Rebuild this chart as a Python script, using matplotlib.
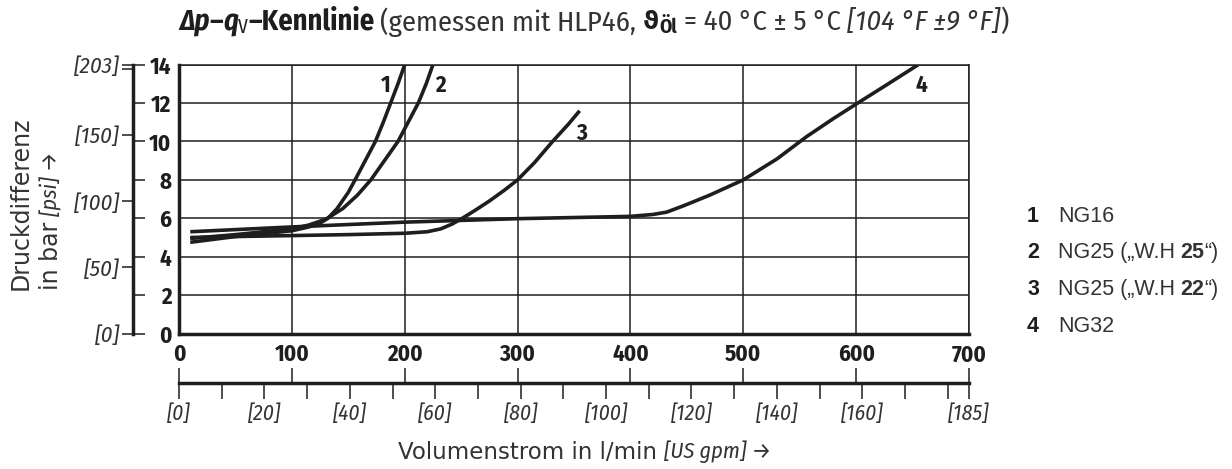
import numpy as np
import matplotlib
matplotlib.use("Agg")
import matplotlib.pyplot as plt

# ------------------- characteristic curves (q in l/min, dp in bar) -------------------
q_ng16 = [10, 30, 50, 75, 100, 115, 125, 132, 140, 150, 156, 165, 174, 181, 187.5, 194, 200]
p_ng16 = [4.75, 4.9, 5.05, 5.2, 5.35, 5.55, 5.75, 6.0, 6.5, 7.35, 8.0, 9.0, 10.0, 11.0, 12.0, 13.0, 14.0]

q_ng25_25 = [10, 30, 50, 75, 100, 115, 130, 145, 158, 170, 182, 194, 203, 212, 219, 225]
p_ng25_25 = [4.95, 5.05, 5.15, 5.3, 5.45, 5.65, 5.95, 6.5, 7.2, 8.0, 9.0, 10.0, 11.0, 12.0, 13.0, 14.0]

q_ng25_22 = [10, 50, 100, 150, 200, 220, 232, 242, 251, 262, 275, 288, 300, 315, 331, 345, 355]
p_ng25_22 = [5.0, 5.05, 5.1, 5.15, 5.22, 5.3, 5.45, 5.7, 6.0, 6.4, 6.9, 7.45, 8.0, 8.9, 10.0, 10.9, 11.6]

q_ng32 = [10, 100, 200, 300, 400, 420, 432, 447, 470, 500, 530, 556, 580, 600, 627, 655]
p_ng32 = [5.3, 5.55, 5.8, 5.98, 6.1, 6.2, 6.32, 6.65, 7.2, 8.0, 9.1, 10.25, 11.2, 11.95, 12.95, 14.0]

curve_ids = ["1", "2", "3", "4"]
curve_label_pos = [(183, 12.9), (232, 12.9), (357, 10.4), (658, 12.9)]
legend_names = ["NG16", "NG25 (\u201eW.H", "NG25 (\u201eW.H", "NG32"]
legend_bold = ["", "25", "22", ""]
legend_tail = ["", "\u201c)", "\u201c)", ""]

# axis scales
bar_ticks = [0, 2, 4, 6, 8, 10, 12, 14]
psi_ticks = [0, 50, 100, 150, 200, 203]
psi_labels = ["[0]", "[50]", "[100]", "[150]", "", "[203]"]
lmin_ticks = [0, 100, 200, 300, 400, 500, 600, 700]
gpm_ticks = list(range(0, 190, 10)) + [185]
gpm_labels = [f"[{g}]" if (g % 20 == 0 and g <= 160) or g == 185 else "" for g in gpm_ticks]
BAR_TO_PSI = 14.5038

W, H = 1232, 469
INK = "#1e1e1e"
GREY = "#333333"
NARROW = ["Fira Sans Condensed", "Barlow Semi Condensed", "Liberation Sans", "DejaVu Sans"]
SANS = ["DejaVu Sans"]
LEG = ["Liberation Sans", "DejaVu Sans"]


def fx(px):
    return px / W


def fy(py):
    return 1 - py / H


fig = plt.figure(figsize=(W / 100, H / 100), dpi=100)
renderer = fig.canvas.get_renderer()

x0, x1 = 179, 969
y_top, y_bot = 64.7, 333.5

# ---- main diagram ----
ax = fig.add_axes([fx(x0), fy(y_bot), (x1 - x0) / W, (y_bot - y_top) / H])
ax.set_xlim(0, 700)
ax.set_ylim(0, 14)
ax.set_xticks(lmin_ticks)
ax.set_yticks(bar_ticks)
ax.grid(True, color=INK, lw=1.1)
ax.tick_params(axis="both", length=0)
ax.tick_params(axis="x", pad=7)
ax.set_yticklabels([])
ax.set_xticklabels([str(t) for t in lmin_ticks], fontfamily=NARROW,
                   fontweight="bold", fontsize=16.5, color=INK)
for s in ["left", "bottom"]:
    ax.spines[s].set_linewidth(2.5)
for s in ["top", "right"]:
    ax.spines[s].set_linewidth(1.1)
for s in ax.spines.values():
    s.set_color(INK)
    s.set_zorder(3)

for q, p in [(q_ng16, p_ng16), (q_ng25_25, p_ng25_25),
             (q_ng25_22, p_ng25_22), (q_ng32, p_ng32)]:
    ax.plot(q, p, color=INK, lw=2.6, solid_capstyle="butt", zorder=4)

for cid, (qx, py) in zip(curve_ids, curve_label_pos):
    ax.text(qx, py, cid, ha="center", va="center", fontfamily=NARROW,
            fontweight="bold", fontsize=16.5, color=INK)

# ---- bar / psi scale on the left ----
ay = fig.add_axes([fx(133), fy(y_bot), 1e-6, (y_bot - y_top) / H])
ay.set_ylim(0, 14)
ay.set_xticks([])
for s in ["left", "top", "bottom"]:
    ay.spines[s].set_visible(False)
ay.spines["right"].set_linewidth(2.5)
ay.spines["right"].set_color(INK)
ay.yaxis.set_ticks_position("right")
ay.set_yticks(bar_ticks)
ay.set_yticklabels([str(t) for t in bar_ticks], fontfamily=NARROW,
                   fontweight="bold", fontsize=16.5, color=INK)
ay.tick_params(axis="y", direction="out", length=8.5, width=1.1, color=INK, pad=19)
for lab in ay.get_yticklabels():
    lab.set_horizontalalignment("right")

ap = fig.add_axes([fx(133), fy(y_bot), 1e-6, (y_bot - y_top) / H])
ap.patch.set_visible(False)
ap.set_ylim(0, 14 * BAR_TO_PSI)
ap.set_xticks([])
for s in ap.spines.values():
    s.set_visible(False)
ap.set_yticks(psi_ticks)
ap.set_yticklabels(psi_labels, fontfamily=NARROW, fontstyle="italic",
                   fontsize=16.5, color=GREY)
ap.tick_params(axis="y", direction="out", length=8, width=1.1, color=INK, pad=1.5)

# ---- l/min / US gpm scale below ----
y_sec = 383
axx = fig.add_axes([fx(x0), fy(y_sec), (x1 - x0) / W, 1e-6])
axx.set_xlim(0, 700)
axx.set_yticks([])
for s in ["left", "right", "top"]:
    axx.spines[s].set_visible(False)
axx.spines["bottom"].set_linewidth(2.5)
axx.spines["bottom"].set_color(INK)
axx.xaxis.set_ticks_position("top")
axx.set_xticks(lmin_ticks)
axx.set_xticklabels([])
axx.tick_params(axis="x", direction="out", length=11, width=1.1, color=INK)

axg = fig.add_axes([fx(x0), fy(y_sec), (x1 - x0) / W, 1e-6])
axg.patch.set_visible(False)
axg.set_xlim(0, 700 / 3.7838)
axg.set_yticks([])
for s in axg.spines.values():
    s.set_visible(False)
axg.set_xticks(gpm_ticks)
axg.set_xticklabels(gpm_labels, fontfamily=NARROW, fontstyle="italic",
                    fontsize=15.5, color=GREY)
axg.tick_params(axis="x", direction="out", length=11.5, width=1.1, color=INK, pad=3)


def chain(x, y, parts, rotation=0):
    """Draw text pieces one after another, starting at (x, y) in pixels.
    Each part is (text, style[, y offset px[, gap after px]])."""
    for txt, kw, *extra in parts:
        off = extra[0] if len(extra) > 0 else 0
        gap = extra[1] if len(extra) > 1 else 0
        opts = dict(color=GREY, va="center" if rotation == 0 else "bottom",
                    ha="left" if rotation == 0 else "center", rotation=rotation)
        opts.update(kw)
        t = fig.text(fx(x), fy(y + off), txt, **opts)
        bb = t.get_window_extent(renderer)
        if rotation == 0:
            x += bb.width + gap
        else:
            y -= bb.height + gap
    return x


# ---- axis titles ----
chain(398, 452, [("Volumenstrom in l/min", dict(fontfamily=SANS, fontsize=16.5), 0, 7),
                 ("[US gpm] \u2192", dict(fontfamily=NARROW, fontstyle="italic", fontsize=16))])
chain(21, 290, [("Druckdifferenz", dict(fontfamily=SANS, fontsize=17))], rotation=90)
chain(51, 290, [("in bar", dict(fontfamily=SANS, fontsize=17), 0, 6),
                ("[psi] \u2192", dict(fontfamily=NARROW, fontstyle="italic", fontsize=16))],
      rotation=90)

# ---- legend ----
for i, cid in enumerate(curve_ids):
    yy = 216 + i * 36.7
    fig.text(fx(1033), fy(yy), cid, ha="center", va="center", fontfamily=LEG,
             fontweight="bold", fontsize=15.5, color=INK)
    chain(1058, yy, [(legend_names[i], dict(fontfamily=LEG, fontsize=15.5), 0, 5),
                     (legend_bold[i], dict(fontfamily=LEG, fontsize=15.5, fontweight="bold")),
                     (legend_tail[i], dict(fontfamily=LEG, fontsize=15.5))])

# ---- title built from styled pieces ----
tsz = 20.5
sub = 14
tb = dict(fontfamily=NARROW, fontsize=tsz, fontweight="bold", color=INK)
tbi = dict(tb, fontstyle="italic")
tn = dict(fontfamily=NARROW, fontsize=tsz, color=GREY)
chain(179, 22, [
    ("\u0394p", tbi),
    ("\u2013", tb),
    ("q", tbi),
    ("V", dict(tb, fontweight="normal", fontsize=sub), 5),
    ("\u2013Kennlinie", tb, 0, 6),
    ("(gemessen mit HLP46,", tn, 0, 7),
    ("\u03d1", dict(tb, fontfamily=["DejaVu Sans"], fontsize=tsz - 3)),
    ("\u00d6l", dict(tb, fontsize=sub), 5, 7),
    ("= 40 \u00b0C \u00b1 5 \u00b0C", tn, 0, 7),
    ("[104 \u00b0F \u00b19 \u00b0F]", dict(tn, fontstyle="italic")),
    (")", tn),
])

fig.savefig("out.png", dpi=100)
